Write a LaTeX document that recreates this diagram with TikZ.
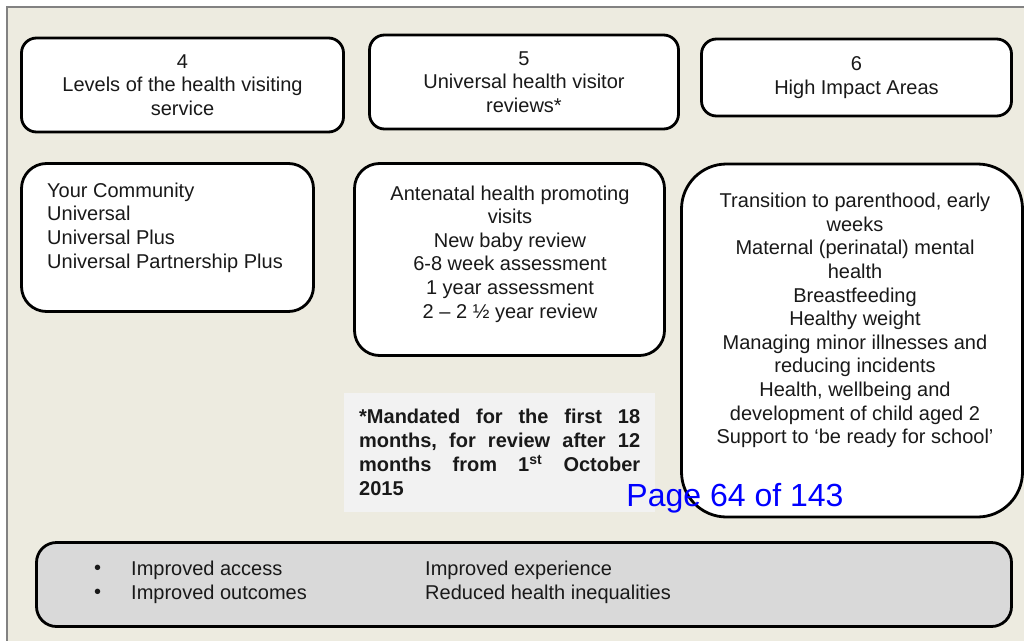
\documentclass[tikz,border=0pt]{standalone}
\usepackage{fontspec}
\setmainfont{Liberation Sans}
\definecolor{pagebg}{RGB}{237,235,224}
\definecolor{framegrey}{RGB}{130,130,130}
\definecolor{notebg}{RGB}{242,242,242}
\definecolor{outcomebg}{RGB}{217,217,217}
\definecolor{txtcol}{RGB}{25,25,25}
\newcommand{\spreadline}[1]{\leavevmode\hbox to 281pt{#1}}
\begin{document}
\begin{tikzpicture}[x=1pt,y=-1pt,
  panel/.style={draw=black, line width=2.8pt, fill=white, inner sep=0pt},
  txt/.style={font=\fontsize{20}{23.6}\selectfont, inner sep=0pt, text=txtcol},
]
\useasboundingbox (0,0) rectangle (1024,640);
\fill[white] (0,0) rectangle (1024,640);
% page frame
\draw[framegrey, line width=1.5pt, fill=pagebg] (7,7) rectangle (1060,680);

% header boxes
\node[panel, txt, align=center, rounded corners=15pt, minimum width=322pt, minimum height=94pt]
  (h4) at (182.5,85) {4\\Levels of the health visiting\\service};
\node[panel, txt, align=center, rounded corners=15pt, minimum width=309pt, minimum height=94pt]
  (h5) at (524,82) {5\\Universal health visitor\\reviews*};
\node[panel, txt, align=center, rounded corners=15pt, minimum width=310pt, minimum height=77pt]
  (h6) at (856.5,77.5) {6\\High Impact Areas};

% content boxes
\node[panel, rounded corners=25pt, minimum width=292pt, minimum height=148pt]
  (levels) at (167.5,237.5) {};
\node[txt, align=left, anchor=west] (levelstxt) at (47,227.5)
  {Your Community\\Universal\\Universal Plus\\Universal Partnership Plus};

\node[panel, rounded corners=25pt, minimum width=310pt, minimum height=192pt]
  (reviews) at (509.5,259.5) {};
\node[txt, align=center] (reviewstxt) at (510,254)
  {Antenatal health promoting\\visits\\New baby review\\6-8 week assessment\\1 year assessment\\2 – 2 ½ year review};

\node[panel, rounded corners=45pt, minimum width=341pt, minimum height=353pt]
  (hia) at (852,340.5) {};
\node[txt, align=center] (hiatxt) at (855,320.5)
  {Transition to parenthood, early\\weeks\\Maternal (perinatal) mental\\health\\Breastfeeding\\Healthy weight\\Managing minor illnesses and\\reducing incidents\\Health, wellbeing and\\development of child aged 2\\Support to ‘be ready for school’};

% footnote
\node[fill=notebg, minimum width=311pt, minimum height=119pt, inner sep=0pt] (note) at (499.5,452.5) {};
\node[font=\bfseries\fontsize{20}{24}\selectfont, text=txtcol, text width=281pt, align=left,
  inner sep=0pt, anchor=north west] (notetxt) at (359,409)
  {\spreadline{*Mandated\hfill for\hfill the\hfill first\hfill 18}\\
   \spreadline{months,\hfill for\hfill review\hfill after\hfill 12}\\
   \spreadline{months\hfill from\hfill 1\textsuperscript{st}\hfill October}\\
   2015};

% outcomes
\node[draw=black, line width=2.8pt, fill=outcomebg, rounded corners=20pt,
  minimum width=975pt, minimum height=84pt, inner sep=0pt] (outcomes) at (524,584.5) {};
\node[txt, font=\fontsize{20}{24}\selectfont, align=left, anchor=west] (bullets) at (94,582) {•\\•};
\node[txt, font=\fontsize{20}{24}\selectfont, align=left, anchor=west] (outcol1) at (131,582) {Improved access\\Improved outcomes};
\node[txt, font=\fontsize{20}{24}\selectfont, align=left, anchor=west] (outcol2) at (425,582) {Improved experience\\Reduced health inequalities};

% page number
\node[font=\fontsize{32}{38}\selectfont, text=blue, inner sep=0pt] (pageno) at (735,498) {Page 64 of 143};
\end{tikzpicture}
\end{document}
